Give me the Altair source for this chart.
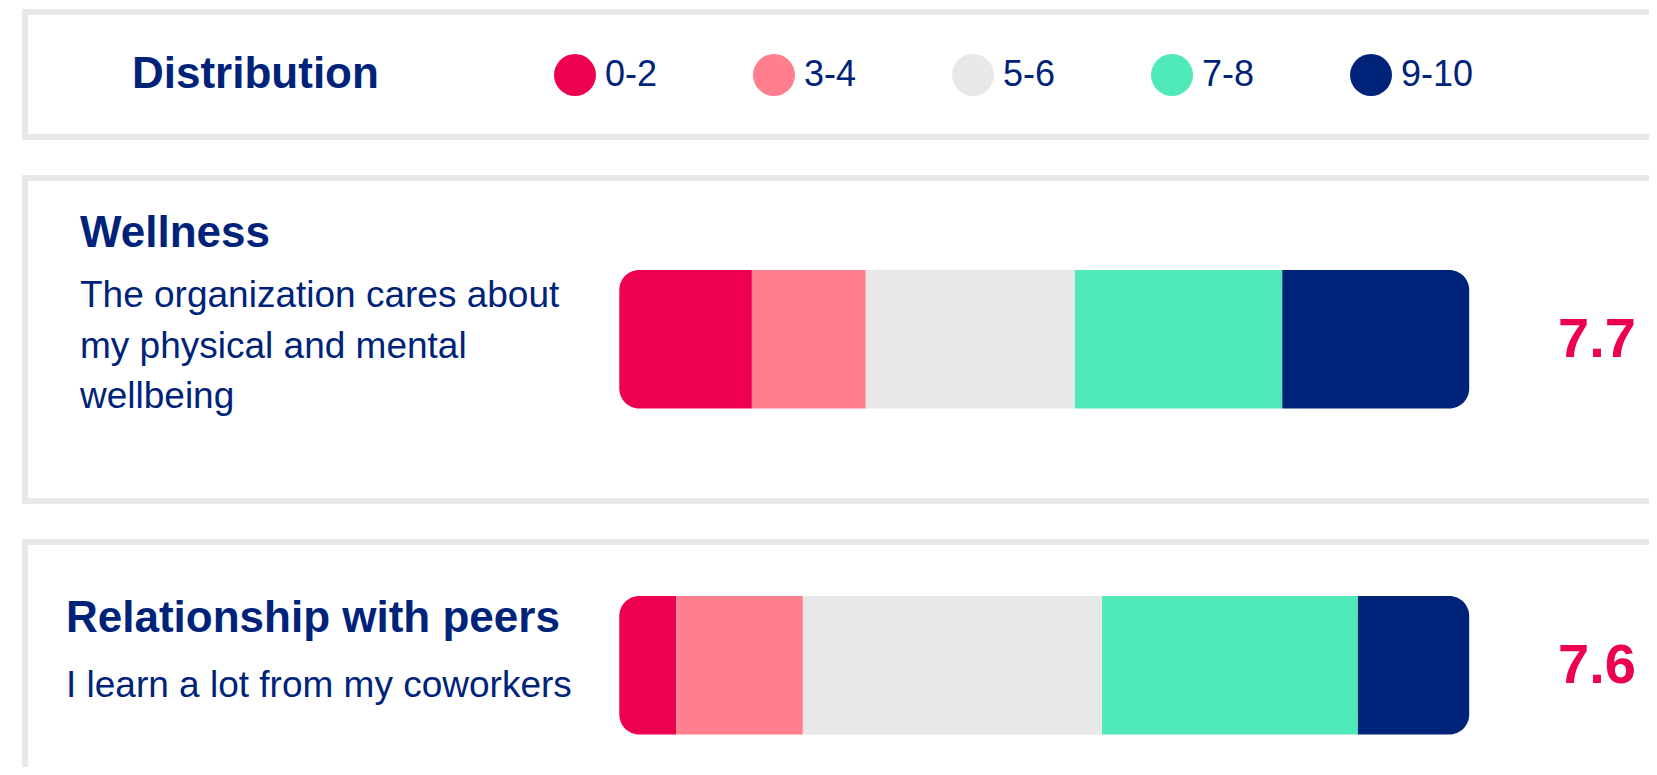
import altair as alt

# ---------------- data ----------------
buckets = ["0-2", "3-4", "5-6", "7-8", "9-10"]
bucket_colors = ["#EC004F", "#FF7F8E", "#E8E8E8", "#50E9BA", "#00237A"]
topics = ["Wellness", "Relationship with peers"]
questions = [
    ["The organization cares about", "my physical and mental", "wellbeing"],
    ["I learn a lot from my coworkers"],
]
scores = [7.7, 7.6]
shares_wellness = [15.6, 13.4, 24.6, 24.4, 22.0]
shares_peers = [6.7, 14.9, 35.2, 30.1, 13.1]

rows = []
for topic, shares in zip(topics, [shares_wellness, shares_peers]):
    for i, (b, s) in enumerate(zip(buckets, shares)):
        rows.append({"topic": topic, "bucket": b, "rank": i, "share": s})
dist = alt.Data(values=rows)
summary = alt.Data(values=[
    {"topic": t, "question": q, "score": s} for t, q, s in zip(topics, questions, scores)
])

# ---------------- style ----------------
NAVY = "#00237A"
RED = "#EC004F"
BORDER = "#E8E8E8"
FONT = "Liberation Sans"
one = alt.Data(values=[{"k": 1}])


def card(y1, y2):
    return alt.Chart(one).mark_rect(
        fill="white", stroke=BORDER, strokeWidth=6, clip=True
    ).encode(x=alt.value(17), x2=alt.value(1760), y=alt.value(y1), y2=alt.value(y2))


cards = [card(4, 129), card(170, 493), card(534, 900)]

x_enc = alt.X("x0:Q", scale=alt.Scale(domain=[0, 100], range=[611.3, 1461.2]), axis=None)
y_scale = alt.Scale(domain=topics, range=[262, 726.5], paddingInner=0.5752, paddingOuter=0)
y_enc = alt.Y("topic:N", scale=y_scale, axis=None)
color_enc = alt.Color(
    "bucket:N",
    scale=alt.Scale(domain=buckets, range=bucket_colors),
    legend=alt.Legend(
        title="Distribution", orient="none", legendX=124, legendY=46,
        direction="horizontal", titleOrient="left", titleAnchor="middle",
        titleBaseline="middle", titleFont=FONT, titleFontSize=44,
        titleFontWeight="bold", titleColor=NAVY, titlePadding=175,
        titleLimit=600,
        labelFont=FONT, labelFontSize=36, labelColor=NAVY, labelOffset=9,
        labelLimit=300, symbolType="circle", symbolSize=1764,
        symbolStrokeWidth=0, symbolOpacity=1, columnPadding=95, padding=0,
    ),
)

base = alt.Chart(dist).transform_stack(
    stack="share", groupby=["topic"], as_=["x0", "x1"],
    sort=[alt.SortField("rank", order="ascending")],
)
enc = dict(x=x_enc, x2="x1:Q", y=y_enc, color=color_enc)

bar_first = base.transform_filter(alt.datum.rank == 0).mark_bar(
    cornerRadiusTopLeft=20, cornerRadiusBottomLeft=20).encode(**enc)
bar_mid = base.transform_filter((alt.datum.rank > 0) & (alt.datum.rank < 4)).mark_bar(
    cornerRadius=0).encode(**enc)
bar_last = base.transform_filter(alt.datum.rank == 4).mark_bar(
    cornerRadiusTopRight=20, cornerRadiusBottomRight=20).encode(**enc)

text_layers = []
title_pos = {"Wellness": (72, 239.3), "Relationship with peers": (58, 623.7)}
desc_pos = {"Wellness": (72, 299.3), "Relationship with peers": (58, 689.3)}
for t in topics:
    tx, ty = title_pos[t]
    dx, dy = desc_pos[t]
    text_layers.append(
        alt.Chart(summary).transform_filter(alt.datum.topic == t).mark_text(
            align="left", baseline="alphabetic", font=FONT, fontSize=44,
            fontWeight="bold", color=NAVY,
        ).encode(x=alt.value(tx), y=alt.value(ty), text="topic:N")
    )
    text_layers.append(
        alt.Chart(summary).transform_filter(alt.datum.topic == t).mark_text(
            align="left", baseline="alphabetic", font=FONT, fontSize=37,
            lineHeight=50.5, color=NAVY,
        ).encode(x=alt.value(dx), y=alt.value(dy), text="question:N")
    )

score_text = alt.Chart(summary).mark_text(
    align="left", baseline="alphabetic", dy=17.5, font=FONT, fontSize=56,
    fontWeight="bold", color=RED,
).encode(x=alt.value(1550), y=y_enc, text=alt.Text("score:Q", format=".1f"))

chart = alt.layer(
    *cards, bar_first, bar_mid, bar_last, *text_layers, score_text
).properties(
    width=1641, height=759, padding=0,
    autosize=alt.AutoSizeParams(type="none"),
    background="white",
).configure_view(stroke=None)

chart.save("out.html", embed_options={"renderer": "svg", "actions": False})
